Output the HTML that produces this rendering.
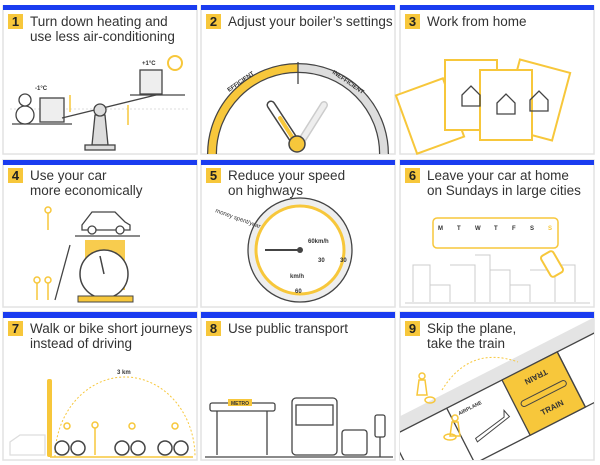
<!DOCTYPE html>
<html><head><meta charset="utf-8"><style>
html,body{margin:0;padding:0;background:#fff;width:600px;height:465px;overflow:hidden;}
svg{display:block;}
text{font-family:"Liberation Sans",sans-serif;}
.t{font-size:13.5px;fill:#333;}
.n{font-size:13px;font-weight:bold;fill:#222;}
.s{font-size:6px;font-weight:bold;fill:#333;}
</style></head><body>
<svg width="600" height="465" viewBox="0 0 600 465" xmlns="http://www.w3.org/2000/svg">
<defs><clipPath id="c9"><rect x="400" y="318" width="194" height="142"/></clipPath></defs>
<g fill="none" stroke="#e2e2e2" stroke-width="1.5">
<rect x="3" y="6" width="194" height="148"/><rect x="201" y="6" width="194" height="148"/><rect x="400" y="6" width="194" height="148"/>
<rect x="3" y="160" width="194" height="147"/><rect x="201" y="160" width="194" height="147"/><rect x="400" y="160" width="194" height="147"/>
<rect x="3" y="312" width="194" height="148"/><rect x="201" y="312" width="194" height="148"/><rect x="400" y="312" width="194" height="148"/>
</g>
<!-- panel 2 gauge -->
<path d="M212 154 A86 86 0 0 1 298 68" fill="none" stroke="#444" stroke-width="10"/>
<path d="M298 68 A86 86 0 0 1 384 154" fill="none" stroke="#444" stroke-width="10"/>
<path d="M212 154 A86 86 0 0 1 298 68" fill="none" stroke="#f7c73b" stroke-width="7.5"/>
<path d="M298 68 A86 86 0 0 1 384 154" fill="none" stroke="#ddd" stroke-width="7.5"/>
<line x1="298" y1="62" x2="298" y2="84" stroke="#444" stroke-width="1.3"/>
<path d="M324 105 L302 140" stroke="#ccc" stroke-width="8" stroke-linecap="round"/>
<path d="M324 105 L302 140" stroke="#eee" stroke-width="5" stroke-linecap="round"/>
<path d="M271 105 L294 140" stroke="#444" stroke-width="9" stroke-linecap="round"/>
<path d="M271 105 L294 140" stroke="#fff" stroke-width="6" stroke-linecap="round"/>
<path d="M280 118 L294 140" stroke="#f7c73b" stroke-width="4" stroke-linecap="round"/>
<circle cx="297" cy="144" r="8" fill="#f7c73b" stroke="#444" stroke-width="1.5"/>
<text class="s" x="229" y="92" transform="rotate(-35 229 92)">EFFICIENT</text>
<text class="s" x="332" y="73" transform="rotate(35 332 73)">INEFFICIENT</text>
<g fill="#1a3cf0">
<rect x="3" y="5" width="194" height="5"/><rect x="201" y="5" width="194" height="5"/><rect x="400" y="5" width="194" height="5"/>
<rect x="3" y="160" width="194" height="5"/><rect x="201" y="160" width="194" height="5"/><rect x="400" y="160" width="194" height="5"/>
<rect x="3" y="312" width="194" height="6"/><rect x="201" y="312" width="194" height="6"/><rect x="400" y="312" width="194" height="6"/>
</g>
<g fill="#f7c73b">
<rect x="8" y="14" width="15" height="15"/><rect x="206" y="14" width="15" height="15"/><rect x="405" y="14" width="15" height="15"/>
<rect x="8" y="168" width="15" height="15"/><rect x="206" y="168" width="15" height="15"/><rect x="405" y="168" width="15" height="15"/>
<rect x="8" y="321" width="15" height="15"/><rect x="206" y="321" width="15" height="15"/><rect x="405" y="321" width="15" height="15"/>
</g>
<g class="n" text-anchor="middle">
<text x="15.5" y="26">1</text><text x="213.5" y="26">2</text><text x="412.5" y="26">3</text>
<text x="15.5" y="180">4</text><text x="213.5" y="180">5</text><text x="412.5" y="180">6</text>
<text x="15.5" y="333">7</text><text x="213.5" y="333">8</text><text x="412.5" y="333">9</text>
</g>
<g class="t">
<text x="30" y="26">Turn down heating and</text><text x="30" y="41">use less air-conditioning</text>
<text x="228" y="26">Adjust your boiler’s settings</text>
<text x="427" y="26">Work from home</text>
<text x="30" y="180">Use your car</text><text x="30" y="195">more economically</text>
<text x="228" y="180">Reduce your speed</text><text x="228" y="195">on highways</text>
<text x="427" y="180">Leave your car at home</text><text x="427" y="195">on Sundays in large cities</text>
<text x="30" y="333">Walk or bike short journeys</text><text x="30" y="348">instead of driving</text>
<text x="228" y="333">Use public transport</text>
<text x="427" y="333">Skip the plane,</text><text x="427" y="348">take the train</text>
</g>
<!-- panel 1 -->
<line x1="10" y1="109" x2="190" y2="109" stroke="#ddd" stroke-dasharray="2 2"/>
<g stroke="#444" stroke-width="1.3" fill="#fff">
<line x1="12" y1="124" x2="72" y2="124"/>
<circle cx="25" cy="115" r="9"/><circle cx="25" cy="100" r="6"/>
<rect x="40" y="98" width="24" height="24" fill="#eee"/>
<line x1="62" y1="118" x2="160" y2="94"/>
<line x1="130" y1="95" x2="185" y2="95"/>
<rect x="140" y="70" width="22" height="24" fill="#eee"/>
<path d="M95 115 L92 145 L108 145 L105 115Z" fill="#ddd"/>
<rect x="85" y="145" width="30" height="5" fill="#ddd"/>
<circle cx="100" cy="110" r="6" fill="#ddd"/>
</g>
<circle cx="175" cy="63" r="7" fill="none" stroke="#f7c73b" stroke-width="2"/>
<text class="s" x="35" y="90">-1°C</text><text class="s" x="142" y="65">+1°C</text>
<line x1="70" y1="95" x2="70" y2="112" stroke="#f7c73b" stroke-width="1.5"/>
<line x1="128" y1="105" x2="128" y2="125" stroke="#f7c73b" stroke-width="1.5"/>
<!-- panel 3 cards -->
<g stroke="#f7c73b" stroke-width="2" fill="#fff">
<rect x="405" y="85" width="50" height="62" transform="rotate(-20 430 116)"/>
<rect x="445" y="60" width="52" height="70"/>
<rect x="510" y="65" width="52" height="70" transform="rotate(15 536 100)"/>
<rect x="480" y="70" width="52" height="70"/>
</g>
<g stroke="#444" stroke-width="1.3" fill="none">
<path d="M462 95 L471 86 L480 95 V106 H462Z"/><path d="M497 103 L506 94 L515 103 V114 H497Z"/><path d="M530 100 L539 91 L548 100 V111 H530Z"/>
</g>
<!-- panel 4 -->
<g stroke="#444" stroke-width="1.3" fill="none">
<path d="M82 225 L92 212 L115 212 L125 222 L130 225 V230 H82Z" fill="#fff"/>
<circle cx="92" cy="230" r="4" fill="#fff"/><circle cx="120" cy="230" r="4" fill="#fff"/>
<line x1="75" y1="236" x2="140" y2="236"/>
</g>
<rect x="85" y="240" width="40" height="50" fill="#f7c73b" opacity="0.9"/>
<circle cx="104" cy="274" r="24" fill="#fff" stroke="#444" stroke-width="1.5"/>
<line x1="104" y1="274" x2="100" y2="256" stroke="#444" stroke-width="1.5"/>
<rect x="78" y="296" width="55" height="6" fill="#f7c73b" stroke="#444"/>
<line x1="55" y1="300" x2="70" y2="245" stroke="#444" stroke-width="1.3"/>
<g stroke="#f7c73b" stroke-width="1.5" fill="none"><circle cx="37" cy="280" r="3"/><line x1="37" y1="283" x2="37" y2="300"/><circle cx="48" cy="280" r="3"/><line x1="48" y1="283" x2="48" y2="300"/><circle cx="48" cy="210" r="3"/><line x1="48" y1="213" x2="48" y2="230"/></g>
<!-- panel 5 -->
<circle cx="300" cy="250" r="52" fill="#eee" stroke="#444" stroke-width="1.3"/>
<circle cx="300" cy="250" r="44" fill="#fff" stroke="#f7c73b" stroke-width="3"/>
<line x1="300" y1="250" x2="265" y2="250" stroke="#444" stroke-width="2"/>
<circle cx="300" cy="250" r="3" fill="#444"/>
<text class="s" x="308" y="243">60km/h</text><text class="s" x="318" y="262">30</text><text class="s" x="340" y="262">30</text><text class="s" x="295" y="293">60</text><text class="s" x="290" y="278">km/h</text>
<text class="s" x="215" y="212" transform="rotate(20 215 212)" style="font-weight:normal">money spent/year</text>
<!-- panel 6 -->
<rect x="433" y="218" width="125" height="30" rx="4" fill="#fff" stroke="#f7c73b" stroke-width="1.5"/>
<g class="s"><text x="438" y="230">M</text><text x="457" y="230">T</text><text x="475" y="230">W</text><text x="494" y="230">T</text><text x="512" y="230">F</text><text x="530" y="230">S</text><text x="548" y="230" fill="#f7c73b">S</text></g>
<g stroke="#ccc" stroke-width="1" fill="none"><path d="M413 302 V265 H430 V302 M430 285 H450 V302 M450 265 H475 V302 M475 255 H490 V302 M490 270 H510 V302 M510 285 H530 V302 M530 270 H555 V302 M555 265 H575 V302"/><line x1="405" y1="303" x2="590" y2="303"/></g>
<rect x="545" y="252" width="14" height="24" rx="3" fill="#fff" stroke="#f7c73b" stroke-width="2" transform="rotate(-30 552 264)"/>
<!-- panel 7 -->
<rect x="47" y="379" width="5" height="78" rx="2" fill="#f7c73b"/>
<path d="M55 457 A70 80 0 0 1 195 457" fill="none" stroke="#f7c73b" stroke-width="1" stroke-dasharray="2 2"/>
<text class="s" x="117" y="374">3 km</text>
<line x1="50" y1="457" x2="193" y2="457" stroke="#f7c73b" stroke-width="1.5"/>
<g fill="none" stroke="#444" stroke-width="1.5"><circle cx="62" cy="448" r="7"/><circle cx="78" cy="448" r="7"/><circle cx="122" cy="448" r="7"/><circle cx="138" cy="448" r="7"/><circle cx="165" cy="448" r="7"/><circle cx="181" cy="448" r="7"/></g>
<g fill="none" stroke="#f7c73b" stroke-width="1.5"><circle cx="67" cy="426" r="3"/><circle cx="95" cy="425" r="3"/><line x1="95" y1="428" x2="95" y2="455"/><circle cx="132" cy="426" r="3"/><circle cx="175" cy="426" r="3"/></g>
<path d="M10 455 V442 L20 435 H45 V455Z" fill="none" stroke="#ddd" stroke-width="1.3"/>
<!-- panel 8 -->
<rect x="210" y="403" width="65" height="8" rx="2" fill="#fff" stroke="#444" stroke-width="1.3"/>
<rect x="228" y="399" width="24" height="7" fill="#f7c73b"/><text class="s" x="231" y="405" style="font-size:5px">METRO</text>
<g stroke="#444" stroke-width="1.3" fill="none">
<line x1="217" y1="411" x2="217" y2="455"/><line x1="267" y1="411" x2="267" y2="455"/>
<rect x="292" y="398" width="45" height="57" rx="4" fill="#fff"/><rect x="296" y="405" width="37" height="20"/>
<rect x="342" y="430" width="25" height="25" rx="3" fill="#fff"/>
<rect x="375" y="415" width="10" height="22" rx="2"/><line x1="380" y1="437" x2="380" y2="457"/>
<line x1="205" y1="457" x2="393" y2="457"/>
</g>
<!-- panel 9 board -->
<g clip-path="url(#c9)">
<g transform="translate(502,380) rotate(-27)">
<rect x="-260" y="-14" width="400" height="14" fill="#e4e4e4"/>
<rect x="-260" y="0" width="400" height="62" fill="#fff"/>
<line x1="-260" y1="0" x2="140" y2="0" stroke="#444" stroke-width="1.3"/>
<line x1="-260" y1="62" x2="140" y2="62" stroke="#444" stroke-width="1.3"/>
<line x1="-124" y1="0" x2="-124" y2="62" stroke="#444" stroke-width="1.3"/>
<line x1="-62" y1="0" x2="-62" y2="62" stroke="#444" stroke-width="1.3"/>
<rect x="0" y="0" width="62" height="62" fill="#f7c73b" stroke="#444" stroke-width="1.3"/>
<line x1="62" y1="0" x2="62" y2="62" stroke="#444" stroke-width="1.3"/>
<rect x="6" y="28" width="50" height="6" rx="3" fill="none" stroke="#444"/>
<text class="s" x="20" y="50" style="font-size:8px">TRAIN</text>
<text class="s" x="44" y="14" transform="rotate(180 44 12)" style="font-size:8px">TRAIN</text>
<text class="s" x="-54" y="12" style="font-size:5px">AIRPLANE</text>
<path d="M-50 40 L-15 34 L-12 28 L-10 36 L-50 44Z" fill="#fff" stroke="#444"/>
</g>
</g>
<path d="M442 390 Q470 345 518 362" fill="none" stroke="#f7c73b" stroke-dasharray="2 2"/>
<g fill="none" stroke="#f7c73b" stroke-width="1.5">
<circle cx="422" cy="376" r="3"/><path d="M419 380 L425 380 L427 395 L417 395Z"/><ellipse cx="430" cy="400" rx="5" ry="3"/>
<circle cx="455" cy="418" r="3"/><path d="M452 422 L458 422 L460 436 L450 436Z"/><ellipse cx="450" cy="437" rx="6" ry="3"/>
</g>
</svg>
</body></html>
